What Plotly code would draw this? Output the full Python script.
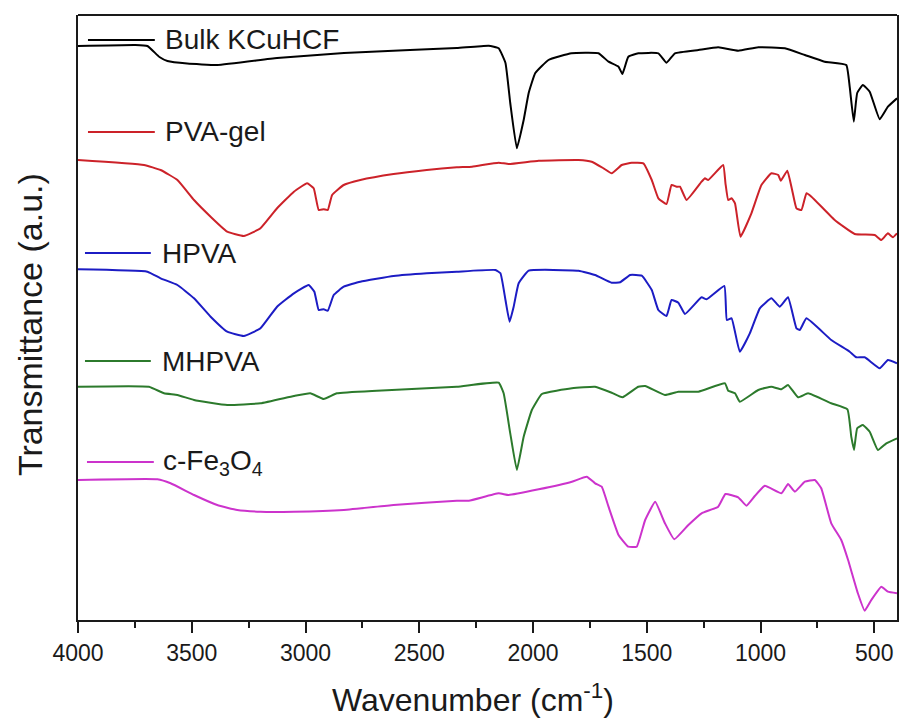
import plotly.graph_objects as go

# ---- data (wavenumber in cm-1, transmittance in arbitrary offset units) ----
wn_bulk = [4000, 3748, 3695, 3642, 3607, 3520, 3388, 3125, 2831, 2541, 2335, 2195, 2151, 2121, 2100,
           2071, 2041, 2019, 1990, 1932, 1831, 1712, 1668, 1624, 1607, 1581, 1537, 1449, 1413, 1376, 1273,
           1186, 1098, 1010, 893, 805, 718, 623, 608, 590, 575, 550, 520, 476, 440, 400]
t_bulk = [57.4, 57.5, 57.4, 56.3, 55.9, 55.65, 55.5, 56.2, 56.7, 57.0, 57.2, 57.43, 57.17, 55.7, 51.7,
          47.17, 50.0, 52.7, 54.7, 56.0, 56.67, 56.67, 55.83, 55.33, 54.6, 56.33, 56.67, 56.67, 55.73, 56.67, 57.0,
          57.27, 56.93, 57.27, 57.17, 56.5, 55.83, 55.5, 53.33, 49.83, 52.7, 53.5, 52.83, 50.07, 51.33, 52.17]

wn_pva = [4000, 3710, 3637, 3563, 3490, 3417, 3344, 3271, 3198, 3125, 3051, 2993, 2964, 2942, 2920, 2902,
          2883, 2832, 2759, 2613, 2467, 2335, 2268, 2151, 2107, 1975, 1800, 1742, 1690, 1654, 1610, 1566,
          1515, 1478, 1449, 1413, 1391, 1369, 1354, 1325, 1259, 1244, 1230, 1164, 1154, 1142, 1127, 1112,
          1088, 1040, 996, 952, 922, 911, 882, 861, 842, 820, 798, 776, 674, 586, 498, 469, 440, 418, 400]
t_pva = [46.0, 45.5, 45.0, 44.0, 42.0, 40.33, 38.83, 38.4, 39.17, 41.17, 42.83, 43.67, 43.17, 41.0, 41.07, 41.0,
         42.5, 43.5, 44.0, 44.6, 45.0, 45.27, 45.33, 45.73, 45.6, 45.93, 46.0, 45.83, 45.17, 44.67, 45.5, 45.73,
         45.67, 44.0, 42.17, 41.6, 43.5, 43.33, 43.33, 42.0, 43.83, 44.17, 44.0, 45.5, 43.67, 42.0, 42.17, 41.67,
         38.33, 40.67, 43.5, 44.67, 44.5, 43.93, 44.93, 43.0, 41.17, 41.0, 42.67, 42.33, 40.0, 38.6, 38.5, 38.0,
         38.67, 38.27, 38.67]

wn_hpva = [4000, 3695, 3637, 3563, 3490, 3417, 3344, 3271, 3198, 3125, 3051, 2986, 2961, 2942, 2920, 2902,
           2876, 2832, 2759, 2613, 2467, 2335, 2165, 2143, 2121, 2103, 2085, 2063, 2019, 1800, 1727, 1654,
           1617, 1573, 1522, 1478, 1449, 1413, 1391, 1361, 1332, 1259, 1237, 1159, 1148, 1127, 1091, 1047,
           1003, 952, 915, 879, 842, 827, 798, 689, 608, 579, 542, 476, 440, 400]
t_hpva = [35.07, 34.83, 34.17, 33.5, 32.17, 30.33, 28.83, 28.4, 29.17, 31.33, 32.67, 33.5, 32.83, 31.0, 31.07, 30.93,
          32.5, 33.33, 33.83, 34.4, 34.67, 34.83, 35.0, 34.67, 32.0, 29.83, 31.33, 33.67, 34.93, 34.93, 34.5, 33.73,
          33.77, 34.5, 34.43, 33.0, 31.0, 30.4, 32.0, 31.73, 30.6, 32.27, 32.07, 33.4, 30.0, 30.17, 26.83, 28.67,
          31.17, 32.17, 31.33, 32.27, 29.17, 29.0, 30.17, 28.0, 26.83, 26.27, 26.27, 25.17, 26.0, 25.67]

wn_mhpva = [4000, 3688, 3622, 3563, 3490, 3344, 3198, 3051, 2979, 2920, 2862, 2686, 2335, 2151, 2129, 2100,
            2071, 2041, 2005, 1961, 1829, 1727, 1654, 1607, 1537, 1507, 1420, 1361, 1273, 1156, 1142, 1112,
            1091, 1010, 952, 908, 879, 835, 791, 689, 618, 601, 589, 575, 550, 520, 484, 447, 400]
t_mhpva = [23.33, 23.33, 22.67, 22.5, 22.0, 21.5, 21.67, 22.4, 22.67, 22.1, 22.67, 22.93, 23.33, 23.73, 22.67, 18.67,
           15.0, 18.33, 21.0, 22.6, 23.17, 23.33, 22.73, 22.27, 23.33, 23.4, 22.5, 22.83, 22.83, 23.67, 22.93, 22.67,
           21.83, 23.0, 23.33, 23.07, 23.5, 22.27, 22.67, 21.67, 21.07, 18.33, 17.0, 19.17, 19.5, 18.83, 17.0, 17.67,
           18.17]

wn_fe = [4000, 3651, 3593, 3490, 3388, 3300, 3198, 3051, 2832, 2613, 2335, 2282, 2151, 2107, 1975, 1829,
         1764, 1727, 1698, 1668, 1624, 1581, 1544, 1507, 1463, 1420, 1379, 1317, 1259, 1186, 1154, 1098,
         1062, 1025, 981, 908, 879, 849, 805, 761, 733, 689, 645, 615, 572, 542, 513, 469, 440, 400]
t_fe = [14.0, 14.07, 13.67, 12.5, 11.5, 11.0, 10.83, 10.83, 11.0, 11.5, 11.93, 11.93, 12.67, 12.5, 13.07, 13.83,
        14.33, 13.67, 13.33, 11.33, 8.5, 7.33, 7.33, 10.0, 11.83, 9.67, 8.07, 9.5, 10.67, 11.33, 12.6, 12.27,
        11.43, 12.4, 13.43, 12.67, 13.6, 12.83, 13.83, 14.0, 13.17, 9.67, 8.0, 6.0, 2.67, 0.93, 2.0, 3.33, 2.83,
        2.67]

names = ["Bulk KCuHCF", "PVA-gel", "HPVA", "MHPVA", "c-Fe<sub>3</sub>O<sub>4</sub>"]
colors = ["#000000", "#cc2229", "#1c1cc4", "#2c7a2c", "#cc33cc"]
series_x = [wn_bulk, wn_pva, wn_hpva, wn_mhpva, wn_fe]
series_y = [t_bulk, t_pva, t_hpva, t_mhpva, t_fe]
tick_values = [4000, 3500, 3000, 2500, 2000, 1500, 1000, 500]

# ---- layout geometry ----
W, H = 901, 722
ML, MR, MT, MB = 78, 2, 15, 102
PW, PH = W - ML - MR, H - MT - MB

def px(xp):
    return (xp - ML) / PW

def py(yp):
    return 1 - (yp - MT) / PH

FONT = "Liberation Sans, Arial, Helvetica, sans-serif"
AX = "#1a1a1a"

fig = go.Figure()
for x, y, n, c in zip(series_x, series_y, names, colors):
    fig.add_trace(go.Scatter(x=x, y=y, mode="lines", name=n,
                             line=dict(color=c, width=2, shape="spline", smoothing=0.35),
                             showlegend=False))

# legend-like labels beside curves
legend_pos = [(88, 155, 40, 163), (88, 155, 132, 163), (85, 151, 253, 160), (85, 151, 361, 160),
              (87, 154, 462, 161)]
shapes = []
annotations = []
for (x0, x1, yy, tx), n, c in zip(legend_pos, names, colors):
    shapes.append(dict(type="line", xref="paper", yref="paper", x0=px(x0), x1=px(x1),
                       y0=py(yy), y1=py(yy), line=dict(color=c, width=2)))
    annotations.append(dict(text=n, xref="paper", yref="paper", x=px(tx), y=py(yy),
                            xanchor="left", yanchor="middle", showarrow=False,
                            font=dict(size=28, color=AX, family=FONT)))

# top frame line (no ticks on top)
shapes.append(dict(type="line", xref="paper", yref="paper", x0=0, x1=1, y0=1, y1=1,
                   line=dict(color=AX, width=2)))

annotations.append(dict(text="Transmittance (a.u.)", xref="paper", yref="paper",
                        x=px(30), y=py(325), xanchor="center", yanchor="middle",
                        textangle=-90, showarrow=False,
                        font=dict(size=34, color=AX, family=FONT)))
annotations.append(dict(text="Wavenumber (cm<sup>-1</sup>)", xref="paper", yref="paper",
                        x=px(474), y=py(698), xanchor="center", yanchor="middle",
                        showarrow=False, font=dict(size=32, color=AX, family=FONT)))

fig.update_layout(
    width=W, height=H,
    margin=dict(l=ML, r=MR, t=MT, b=MB),
    paper_bgcolor="white", plot_bgcolor="white",
    shapes=shapes, annotations=annotations,
    font=dict(family=FONT, color=AX),
)
fig.update_xaxes(range=[4000, 400], autorange=False, showgrid=False, zeroline=False,
                 showline=True, linecolor=AX, linewidth=2, mirror=False,
                 ticks="outside", ticklen=11, tickwidth=2, tickcolor=AX,
                 tickvals=tick_values,
                 tickfont=dict(size=23, color=AX, family=FONT),
                 minor=dict(ticks="outside", ticklen=6, tickwidth=2, tickcolor=AX, dtick=250,
                            tick0=0, showgrid=False))
fig.update_yaxes(range=[0, 60.5], autorange=False, showgrid=False, zeroline=False,
                 showline=True, linecolor=AX, linewidth=2, mirror=True,
                 ticks="", showticklabels=False)

fig.write_html("out.html")
